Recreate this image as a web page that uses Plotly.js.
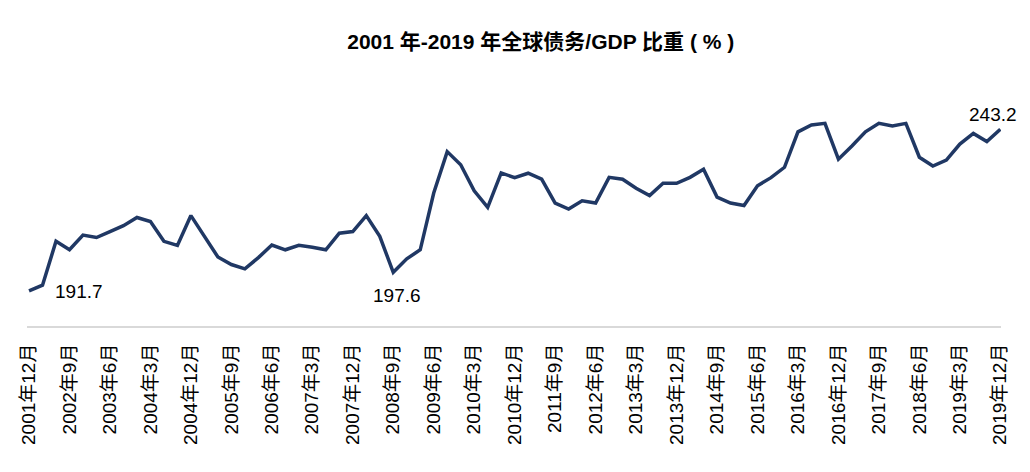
<!DOCTYPE html>
<html>
<head>
<meta charset="utf-8">
<script src="https://cdn.plot.ly/plotly-3.0.1.min.js"></script>
<style>html,body{margin:0;padding:0;background:#fff;}#chart{width:1030px;height:472px;}</style>
</head>
<body>
<div id="chart"></div>
<script>
const categories = [
"2001年12月",
"2002年3月","2002年6月","2002年9月","2002年12月",
"2003年3月","2003年6月","2003年9月","2003年12月",
"2004年3月","2004年6月","2004年9月","2004年12月",
"2005年3月","2005年6月","2005年9月","2005年12月",
"2006年3月","2006年6月","2006年9月","2006年12月",
"2007年3月","2007年6月","2007年9月","2007年12月",
"2008年3月","2008年6月","2008年9月","2008年12月",
"2009年3月","2009年6月","2009年9月","2009年12月",
"2010年3月","2010年6月","2010年9月","2010年12月",
"2011年3月","2011年6月","2011年9月","2011年12月",
"2012年3月","2012年6月","2012年9月","2012年12月",
"2013年3月","2013年6月","2013年9月","2013年12月",
"2014年3月","2014年6月","2014年9月","2014年12月",
"2015年3月","2015年6月","2015年9月","2015年12月",
"2016年3月","2016年6月","2016年9月","2016年12月",
"2017年3月","2017年6月","2017年9月","2017年12月",
"2018年3月","2018年6月","2018年9月","2018年12月",
"2019年3月","2019年6月","2019年9月","2019年12月"
];
const debtToGdp = [
191.7,193.5,207.5,204.8,209.5,208.7,210.6,212.5,215.1,213.8,
207.5,206.2,215.7,209.3,202.5,200.1,198.7,202.3,206.3,204.8,
206.2,205.6,204.8,210.1,210.6,215.7,209.1,197.6,201.9,204.8,
222.9,236.1,231.9,223.6,218.3,229.3,227.8,229.2,227.3,219.7,
217.8,220.4,219.7,227.9,227.3,224.4,222.1,226.0,226.0,227.9,
230.5,221.6,219.7,218.9,225.2,227.8,231.1,242.4,244.6,245.1,
233.7,237.9,242.4,245.1,244.3,245.1,234.3,231.5,233.4,238.5,
241.9,239.3,243.2
];
const tickLabels = [
"2001年12月","2002年9月","2003年6月","2004年3月","2004年12月",
"2005年9月","2006年6月","2007年3月","2007年12月","2008年9月",
"2009年6月","2010年3月","2010年12月","2011年9月","2012年6月",
"2013年3月","2013年12月","2014年9月","2015年6月","2016年3月",
"2016年12月","2017年9月","2018年6月","2019年3月","2019年12月"
];
const labelled = [
  {cat: "2001年12月", text: "191.7", xs: 24, ys: -1, xa: "left"},
  {cat: "2008年9月", text: "197.6", xs: 4, ys: -23, xa: "center"},
  {cat: "2019年12月", text: "243.2", xs: -7, ys: 15, xa: "center"}
];

const annFont = {family: "Liberation Sans, Arial, sans-serif", size: 19, color: "#000"};
const annotations = labelled.map(l => ({
  x: l.cat, y: debtToGdp[categories.indexOf(l.cat)], xref: "x", yref: "y",
  text: l.text, showarrow: false, xanchor: l.xa, yanchor: "middle",
  xshift: l.xs, yshift: l.ys, font: annFont
}));

const trace = {
  x: categories, y: debtToGdp, type: "scatter", mode: "lines",
  line: {color: "#203864", width: 3.5}, hoverinfo: "skip"
};

const layout = {
  width: 1030, height: 472,
  margin: {l: 27, r: 29, t: 108, b: 146},
  paper_bgcolor: "#fff", plot_bgcolor: "#fff",
  showlegend: false,
  title: {
    text: "<b>2001 年-2019 年全球债务/GDP 比重 ( % )</b>",
    x: 0.525, xanchor: "center", xref: "container",
    y: 0.912, yanchor: "middle", yref: "container",
    font: {family: "Liberation Sans, Noto Sans CJK SC, sans-serif", size: 21, color: "#000"}
  },
  xaxis: {
    type: "category",
    range: [-0.15, 72.05],
    tickmode: "array", tickvals: tickLabels, ticktext: tickLabels,
    tickangle: -90,
    tickfont: {family: "Liberation Sans, Noto Sans CJK SC, sans-serif", size: 19, color: "#000"},
    showline: true, linecolor: "#d9d9d9", linewidth: 2,
    showgrid: false, zeroline: false, ticks: "", ticklabelstandoff: 8
  },
  yaxis: {
    range: [180.5, 250], visible: false, showgrid: false, zeroline: false
  },
  annotations: annotations
};

Plotly.newPlot("chart", [trace], layout, {displayModeBar: false, staticPlot: true});
</script>
</body>
</html>
